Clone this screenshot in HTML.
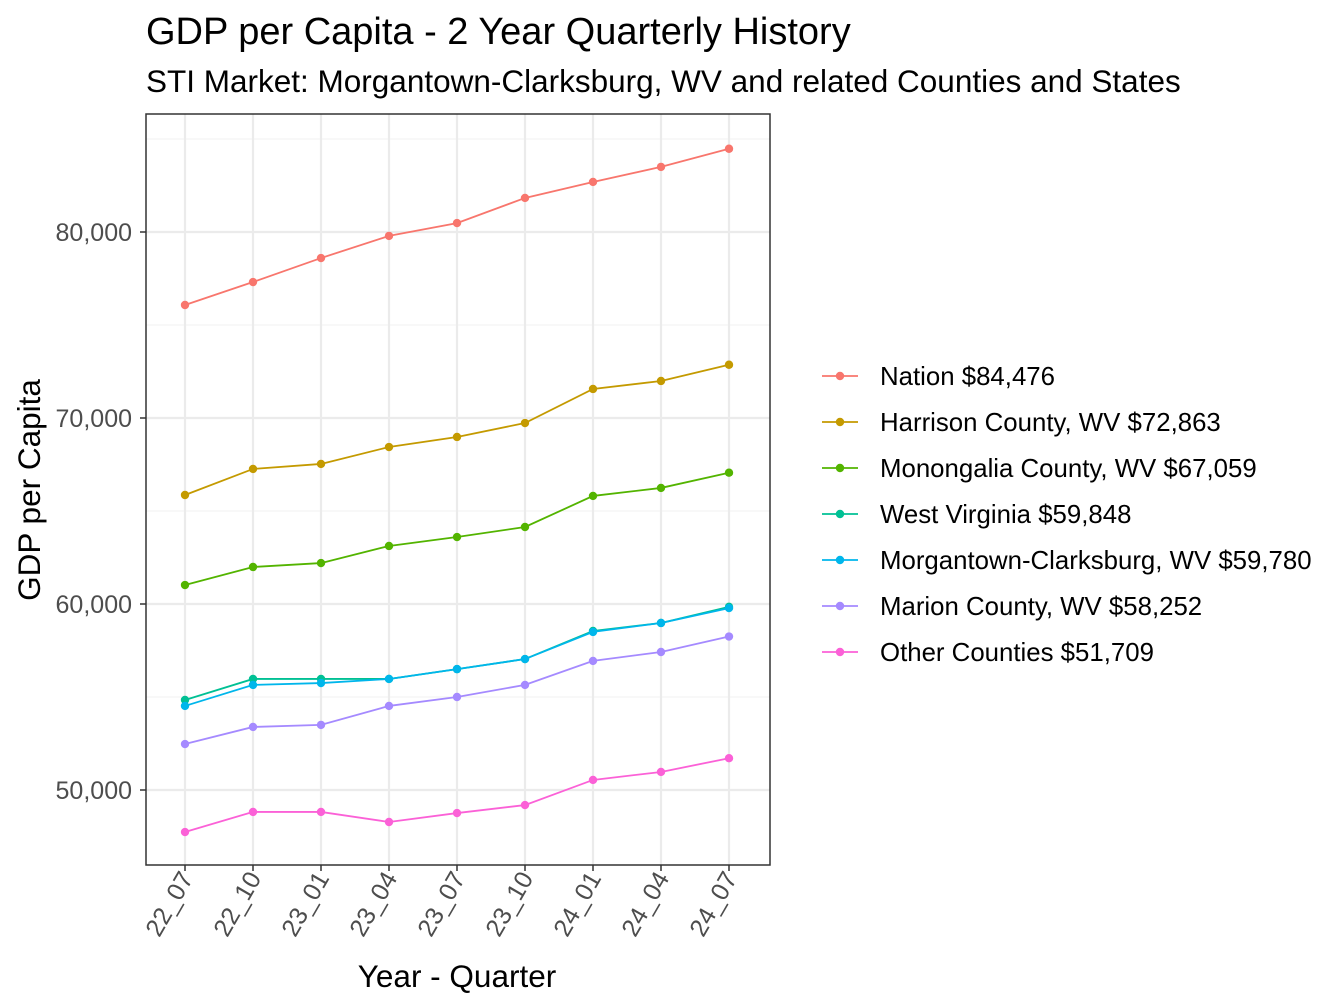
<!DOCTYPE html>
<html><head><meta charset="utf-8"><style>body{margin:0;background:#fff}svg{display:block;font-family:"Liberation Sans",Arial,sans-serif}</style></head>
<body>
<svg id="chart" width="1344" height="1008">
<text x="146" y="44" font-size="38" fill="#000">GDP per Capita - 2 Year Quarterly History</text>
<text x="146" y="92" font-size="31.5" fill="#000">STI Market: Morgantown-Clarksburg, WV and related Counties and States</text>
<g id="grid"></g>
<g id="series"></g>
<rect x="146" y="114" width="624" height="751" fill="none" stroke="#333" stroke-width="1.5"/>
<g id="axes"></g>
<text x="457" y="987" font-size="31.5" text-anchor="middle">Year - Quarter</text>
<text transform="translate(40,490) rotate(-90)" font-size="31.5" text-anchor="middle">GDP per Capita</text>
<g id="legend"></g>
</svg>
<script>
const categories=["22_07","22_10","23_01","23_04","23_07","23_10","24_01","24_04","24_07"];
const seriesNames=["Nation $84,476","Harrison County, WV $72,863","Monongalia County, WV $67,059","West Virginia $59,848","Morgantown-Clarksburg, WV $59,780","Marion County, WV $58,252","Other Counties $51,709"];
const nation=[76075,77310,78600,79790,80480,81830,82690,83500,84476];
const harrison=[65860,67260,67530,68440,68980,69730,71560,71990,72863];
const monongalia=[61020,61990,62200,63120,63600,64140,65810,66240,67059];
const westVirginia=[54840,55970,55970,55970,56500,57040,58550,58980,59848];
const morgantown=[54520,55650,55750,55970,56500,57040,58500,58980,59780];
const marion=[52470,53390,53500,54520,55000,55650,56940,57420,58252];
const other=[47740,48820,48820,48280,48760,49190,50540,50970,51709];
const yTicks=[50000,60000,70000,80000];
const yTickLabels=["50,000","60,000","70,000","80,000"];
const yMinor=[55000,65000,75000,85000];
const allSeries=[nation,harrison,monongalia,westVirginia,morgantown,marion,other];
const colors=["#F8766D","#C49A00","#53B400","#00C094","#00B6EB","#A58AFF","#FB61D7"];
const NS="http://www.w3.org/2000/svg";
const x=i=>185+i*68;
const y=v=>790-(v-50000)*0.0186;
function mk(tag,attrs,parent){const e=document.createElementNS(NS,tag);for(const k in attrs)e.setAttribute(k,attrs[k]);parent.appendChild(e);return e;}
const grid=document.getElementById('grid'),ser=document.getElementById('series'),axes=document.getElementById('axes'),leg=document.getElementById('legend');
mk('rect',{x:146,y:114,width:624,height:751,fill:'#fff'},grid);
yMinor.forEach(v=>{const l=mk('line',{x1:146,x2:770,y1:y(v),y2:y(v),stroke:'#f2f2f2','stroke-width':1},grid);

});
yTicks.forEach((v,i)=>{const l=mk('line',{x1:146,x2:770,y1:y(v),y2:y(v),stroke:'#ebebeb','stroke-width':2.2},grid);


mk('line',{x1:140,x2:146,y1:y(v),y2:y(v),stroke:'#333','stroke-width':1.5},axes);
const t=mk('text',{x:132,y:y(v)+9,'font-size':25,fill:'#4d4d4d','text-anchor':'end'},axes);t.textContent=yTickLabels[i];

});
categories.forEach((c,i)=>{const l=mk('line',{x1:x(i),x2:x(i),y1:114,y2:865,stroke:'#ebebeb','stroke-width':2.2},grid);


mk('line',{x1:x(i),x2:x(i),y1:865,y2:871,stroke:'#333','stroke-width':1.5},axes);
const t=mk('text',{transform:`translate(${x(i)+9},${878}) rotate(-60)`,'font-size':25,fill:'#4d4d4d','text-anchor':'end'},axes);t.textContent=c;

});
allSeries.forEach((s,k)=>{const g=mk('g',{},ser);


mk('polyline',{points:s.map((v,i)=>x(i)+','+y(v)).join(' '),fill:'none',stroke:colors[k],'stroke-width':1.8},g);
s.forEach((v,i)=>{const c=mk('circle',{cx:x(i),cy:y(v),r:4.2,fill:colors[k]},g);

});
const ly=376+k*46;const e=mk('g',{},leg);


mk('line',{x1:822,x2:858,y1:ly,y2:ly,stroke:colors[k],'stroke-width':1.8},e);
mk('circle',{cx:840,cy:ly,r:4.2,fill:colors[k]},e);
const t=mk('text',{x:880,y:ly+9,'font-size':25.8,fill:'#000'},e);t.textContent=seriesNames[k];});
</script>
</body></html>
